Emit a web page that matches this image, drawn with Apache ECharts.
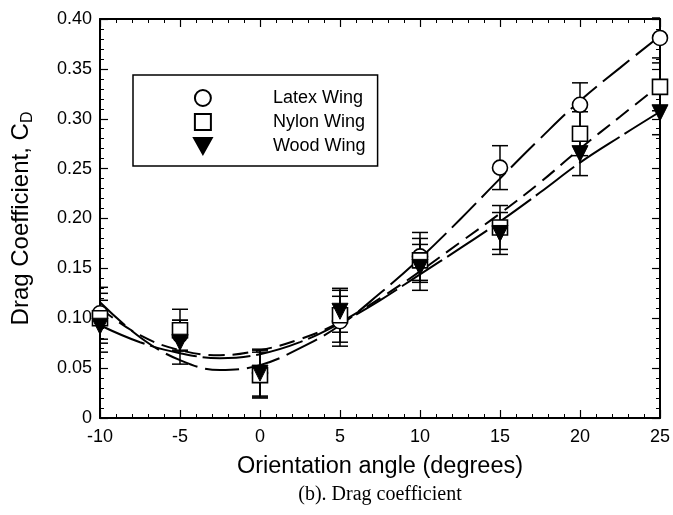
<!DOCTYPE html>
<html>
<head>
<meta charset="utf-8">
<script src="https://cdn.jsdelivr.net/npm/echarts@6/dist/echarts.min.js"></script>
<style>
  html, body { margin: 0; padding: 0; background: #fff; }
  #chart { width: 673px; height: 515px; }
</style>
</head>
<body>
<div id="chart"></div>
<script>
// Measured drag coefficients at each orientation angle
const angles = [-10, -5, 0, 5, 10, 15, 20, 25];
const latexCd  = [0.105, 0.083, 0.045, 0.097, 0.162, 0.251, 0.314, 0.381];
const latexErr = [0.026, 0.015, 0.023, 0.025, 0.024, 0.022, 0.022, 0.020];
const nylonCd  = [0.100, 0.088, 0.043, 0.103, 0.158, 0.191, 0.285, 0.332];
const nylonErr = [0.025, 0.021, 0.023, 0.027, 0.022, 0.022, 0.022, 0.024];
const woodCd   = [0.092, 0.076, 0.045, 0.107, 0.151, 0.185, 0.265, 0.306];
const woodErr  = [0.026, 0.022, 0.024, 0.021, 0.023, 0.021, 0.022, 0.022];

// Fitted trend curves, sampled along the angle range
const fitAngles = [-10, -7.5, -5, -2.5, 0, 2.5, 5, 7.5, 10, 12.5, 15, 17.5, 20, 22.5, 25];
const latexFit  = [0.116, 0.081, 0.058, 0.048, 0.053, 0.070, 0.093, 0.125, 0.160, 0.199, 0.240, 0.280, 0.318, 0.351, 0.383];
const nylonFit  = [0.110, 0.083, 0.068, 0.063, 0.068, 0.079, 0.096, 0.120, 0.147, 0.176, 0.205, 0.236, 0.270, 0.302, 0.334];
const woodFit   = [0.093, 0.076, 0.065, 0.060, 0.064, 0.076, 0.095, 0.118, 0.144, 0.170, 0.197, 0.226, 0.256, 0.282, 0.307];

const xTicks = { min: -10, max: 25, interval: 5 };
const yTicks = { min: 0, max: 0.40, interval: 0.05 };

const SANS = 'Liberation Sans, Arial, sans-serif';
const SERIF = 'Liberation Serif, Times New Roman, serif';
const triangleDown = 'path://M0,0 L10,0 L5,9 Z';
const square = 'path://M0,0 L10,0 L10,10 L0,10 Z';

function pairs(xs, ys) { return xs.map((x, i) => [x, ys[i]]); }

// Vertical error bars with caps, trimmed to the plotting frame
function errorBars(name, means, errs) {
  return {
    type: 'custom',
    name: name + ' error',
    silent: true,
    z: 2,
    encode: { x: 0, y: [1, 2] },
    renderItem(params, api) {
      const x = api.value(0);
      const lo = api.coord([x, api.value(1)]);
      const hi = api.coord([x, api.value(2)]);
      const left = api.coord([xTicks.min, 0])[0];
      const right = api.coord([xTicks.max, 0])[0];
      const w = 8;
      const x1 = Math.max(left, lo[0] - w);
      const x2 = Math.min(right, lo[0] + w);
      const st = { stroke: '#000', lineWidth: 1.5 };
      return {
        type: 'group',
        children: [
          { type: 'line', shape: { x1: lo[0], y1: lo[1], x2: hi[0], y2: hi[1] }, style: st },
          { type: 'line', shape: { x1: x1, y1: lo[1], x2: x2, y2: lo[1] }, style: st },
          { type: 'line', shape: { x1: x1, y1: hi[1], x2: x2, y2: hi[1] }, style: st }
        ]
      };
    },
    data: angles.map((a, i) => [a, means[i] - errs[i], means[i] + errs[i]])
  };
}

function fitLine(name, ys, dash) {
  return {
    type: 'line',
    name: name,
    data: pairs(fitAngles, ys),
    smooth: 0.4,
    showSymbol: false,
    silent: true,
    z: 3,
    lineStyle: { color: '#000', width: 2, type: dash }
  };
}

function markers(name, ys, symbol, size, filled) {
  return {
    type: 'scatter',
    name: name,
    data: pairs(angles, ys),
    symbol: symbol,
    symbolSize: size,
    z: 4,
    itemStyle: {
      opacity: 1,
      color: filled ? '#000' : '#fff',
      borderColor: '#000',
      borderWidth: filled ? 1 : 1.6
    }
  };
}

const axisCommon = {
  axisLine: { show: true, onZero: false, lineStyle: { color: '#000', width: 2 } },
  axisTick: { show: true, inside: true, length: 8, lineStyle: { color: '#000', width: 1.2 } },
  minorTick: { show: true, splitNumber: 5, length: 4, lineStyle: { color: '#000', width: 1 } },
  splitLine: { show: false }
};

const chart = echarts.init(document.getElementById('chart'), null, { renderer: 'canvas' });

chart.setOption({
  backgroundColor: '#fff',
  animation: false,
  grid: { left: 100, right: 12, top: 19, bottom: 97 },
  legend: {
    left: 133,
    top: 75,
    orient: 'vertical',
    itemWidth: 130,
    itemHeight: 16,
    itemGap: 6,
    padding: [14, 12, 11, 60],
    borderColor: '#000',
    borderWidth: 1.5,
    backgroundColor: '#fff',
    selectedMode: false,
    textStyle: { fontFamily: SANS, fontSize: 18, color: '#000' },
    data: [
      { name: 'Latex Wing', icon: 'circle' },
      { name: 'Nylon Wing', icon: square },
      { name: 'Wood Wing', icon: triangleDown }
    ]
  },
  xAxis: [
    Object.assign({
      type: 'value', position: 'bottom',
      min: xTicks.min, max: xTicks.max, interval: xTicks.interval,
      name: 'Orientation angle (degrees)',
      nameLocation: 'middle', nameGap: 37,
      nameTextStyle: { fontFamily: SANS, fontSize: 23.5, color: '#000' },
      axisLabel: { fontFamily: SANS, fontSize: 18, color: '#000', margin: 10 }
    }, axisCommon),
    Object.assign({
      type: 'value', position: 'top',
      min: xTicks.min, max: xTicks.max, interval: xTicks.interval,
      axisLabel: { show: false }
    }, axisCommon)
  ],
  yAxis: [
    Object.assign({
      type: 'value', position: 'left',
      min: yTicks.min, max: yTicks.max, interval: yTicks.interval,
      name: '{a|Drag Coefficient, C}{b|D}',
      nameLocation: 'middle', nameGap: 64, nameRotate: 90,
      nameTextStyle: {
        color: '#000',
        rich: {
          a: { fontFamily: SANS, fontSize: 24, color: '#000' },
          b: { fontFamily: SANS, fontSize: 16, color: '#000', padding: [13, 0, 0, 0] }
        }
      },
      axisLabel: {
        fontFamily: SANS, fontSize: 18, color: '#000', margin: 8,
        formatter: v => (v === 0 ? '0' : v.toFixed(2))
      }
    }, axisCommon),
    Object.assign({
      type: 'value', position: 'right',
      min: yTicks.min, max: yTicks.max, interval: yTicks.interval,
      axisLabel: { show: false }
    }, axisCommon)
  ],
  graphic: [
    {
      type: 'text',
      x: 380,
      y: 495,
      style: {
        text: '(b). Drag coefficient', font: '20px ' + SERIF, fill: '#000',
        align: 'center', verticalAlign: 'middle'
      }
    }
  ],
  series: [
    fitLine('Latex fit', latexFit, [34, 8]),
    fitLine('Nylon fit', nylonFit, [16, 8]),
    fitLine('Wood fit', woodFit, [48, 6]),
    errorBars('Latex Wing', latexCd, latexErr),
    errorBars('Nylon Wing', nylonCd, nylonErr),
    errorBars('Wood Wing', woodCd, woodErr),
    markers('Latex Wing', latexCd, 'circle', 15, false),
    markers('Nylon Wing', nylonCd, square, 15, false),
    markers('Wood Wing', woodCd, triangleDown, 16, true)
  ]
});
</script>
</body>
</html>
